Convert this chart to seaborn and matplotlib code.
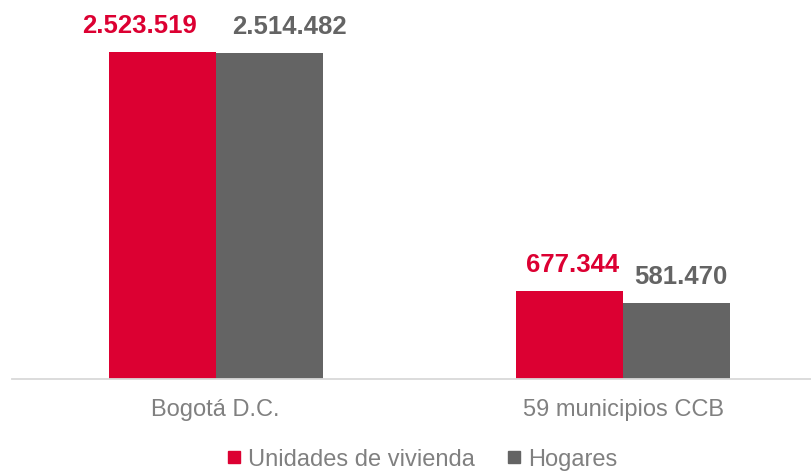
import pandas as pd
import matplotlib
matplotlib.use("Agg")
import matplotlib.pyplot as plt
from matplotlib.lines import Line2D
import seaborn as sns

# Datos
zonas = ["Bogotá D.C.", "59 municipios CCB"]
series = ["Unidades de vivienda", "Hogares"]
viviendas = [2523519, 677344]
hogares = [2514482, 581470]
etiquetas_viv = ["2.523.519", "677.344"]
etiquetas_hog = ["2.514.482", "581.470"]

rojo = "#DC0032"
gris = "#646464"
gris_texto = "#808080"

df = pd.DataFrame({
    "zona": zonas * 2,
    "serie": [series[0]] * 2 + [series[1]] * 2,
    "valor": viviendas + hogares,
})

sns.set_style("white")
plt.rcParams["font.family"] = ["Liberation Sans", "DejaVu Sans"]

fig = plt.figure(figsize=(8.12, 4.72), dpi=100)
ax = fig.add_axes([11.7 / 812, 0.198, 815.4 / 812, 378.5 / 472])

sns.barplot(data=df, x="zona", y="valor", hue="serie", hue_order=series,
            palette=[rojo, gris], width=0.525, gap=0, saturation=1,
            linewidth=0, legend=False, ax=ax)

ax.set_xlim(-0.5, 1.5)
ax.set_ylim(0, 2922700)
ax.set_xlabel("")
ax.set_ylabel("")
ax.set_yticks([])
sns.despine(ax=ax, left=True)
ax.spines["bottom"].set_color("#d9d9d9")
ax.spines["bottom"].set_linewidth(1.3)
ax.tick_params(axis="x", length=0, pad=14.5, labelsize=17, labelcolor=gris_texto)

# etiquetas de valor (desplazamiento en pixeles como en el original)
desp = [[-23, 3], [20, 4]]
textos = [etiquetas_viv, etiquetas_hog]
colores = [rojo, gris]
for i, cont in enumerate(ax.containers):
    for j, bar in enumerate(cont):
        x = bar.get_x() + bar.get_width() / 2
        y = bar.get_height()
        ax.annotate(textos[i][j], xy=(x, y), xytext=(desp[i][j], 19),
                    textcoords="offset pixels", ha="center", va="baseline",
                    fontsize=18.5, fontweight="bold", color=colores[i])

handles = [Line2D([], [], marker="s", linestyle="none", markersize=9.2,
                  markerfacecolor=c, markeredgecolor=c) for c in colores]
leg = fig.legend(handles, series, loc="center", bbox_to_anchor=(422.5 / 812, 0.026),
                 ncol=2, frameon=False, fontsize=17, handlelength=0.55,
                 handletextpad=0.3, columnspacing=1.4, borderpad=0)
for t in leg.get_texts():
    t.set_color(gris_texto)

fig.savefig("out.png", dpi=100)
